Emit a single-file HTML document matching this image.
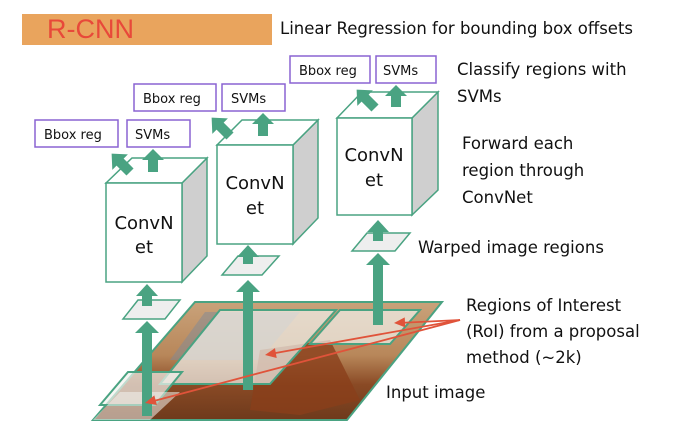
<!DOCTYPE html>
<html><head><meta charset="utf-8"><style>
html,body{margin:0;padding:0;background:#fff;}
svg{display:block;font-family:"Liberation Sans","DejaVu Sans",sans-serif;}
.t{font-family:"DejaVu Sans","Liberation Sans",sans-serif;font-size:16.5px;fill:#111;}
.b{font-family:"DejaVu Sans","Liberation Sans",sans-serif;font-size:13px;fill:#111;}
.c{font-family:"DejaVu Sans","Liberation Sans",sans-serif;font-size:18px;fill:#111;text-anchor:middle;}
</style></head><body>
<svg width="686" height="424" viewBox="0 0 686 424" xmlns="http://www.w3.org/2000/svg">
<defs>
<linearGradient id="img" x1="0" y1="0" x2="0" y2="1">
<stop offset="0" stop-color="#c9a27a"/><stop offset="0.45" stop-color="#b8875a"/><stop offset="0.7" stop-color="#8a4a25"/><stop offset="1" stop-color="#6e3a1c"/>
</linearGradient>
</defs>
<rect x="22" y="14" width="250" height="31" fill="#e9a45d"/>
<text x="47" y="38" font-size="27" fill="#e8493a">R-CNN</text>
<text class="t" x="280" y="34">Linear Regression for bounding box offsets</text>

<polygon points="195,302 442,302 347,420 93,420" fill="url(#img)" stroke="#4aa382" stroke-width="2"/>
<polygon points="205,312 300,312 260,360 170,360" fill="#7f8a98" opacity="0.5"/>
<polygon points="260,350 330,340 360,400 300,415 250,410" fill="#8a3f1a" opacity="0.8"/>
<polygon points="220,310 336,310 270,384 160,384" fill="#f2f2ee" fill-opacity="0.7" stroke="#4aa382" stroke-width="2"/>
<polygon points="340,310 420,310 390,344 310,344" fill="#f2f2ee" fill-opacity="0.7" stroke="#4aa382" stroke-width="2"/>
<polygon points="128,372 182,372 155,405 100,405" fill="#f2f2ee" fill-opacity="0.7" stroke="#4aa382" stroke-width="2"/>
<polygon points="93,420 120,392 180,392 150,420" fill="#f2f2ee" fill-opacity="0.55"/>

<polygon points="138,300 180,300 165,319 123,319" fill="#eeeeee" stroke="#4aa382" stroke-width="1.5"/>
<polygon points="238,256 279,256 262,275 222,275" fill="#eeeeee" stroke="#4aa382" stroke-width="1.5"/>
<polygon points="367,233 410,233 395,251 352,251" fill="#eeeeee" stroke="#4aa382" stroke-width="1.5"/>

<g fill="#4aa382">
<polygon points="142,416 152,416 152,333 159,333 147,321 135,333 142,333"/>
<polygon points="243,390 253,390 253,292 260,292 248,280 236,292 243,292"/>
<polygon points="373,325 383,325 383,265 390,265 378,253 366,265 373,265"/>
<polygon points="142,306 152,306 152,296 158,296 147,284 136,296 142,296"/>
<polygon points="243,264 253,264 253,257 259,257 248,245 237,257 243,257"/>
<polygon points="373,241 383,241 383,232 389,232 378,220 367,232 373,232"/>
</g>

<g stroke="#4aa382" stroke-width="1.5">
<polygon points="182,183 207,158 207,256 182,282" fill="#cfcfcf"/>
<polygon points="106,183 132,158 207,158 182,183" fill="#fff"/>
<rect x="106" y="183" width="76" height="99" fill="#fff"/>
<polygon points="293,145 318,120 318,218 293,244" fill="#cfcfcf"/>
<polygon points="217,145 242,120 318,120 293,145" fill="#fff"/>
<rect x="217" y="145" width="76" height="99" fill="#fff"/>
<polygon points="412,118 438,92 438,190 412,215" fill="#cfcfcf"/>
<polygon points="337,118 362,92 438,92 412,118" fill="#fff"/>
<rect x="337" y="118" width="75" height="97" fill="#fff"/>
</g>
<text class="c" x="144" y="229">ConvN</text><text class="c" x="144" y="253">et</text>
<text class="c" x="255" y="189">ConvN</text><text class="c" x="255" y="214">et</text>
<text class="c" x="374" y="161">ConvN</text><text class="c" x="374" y="186">et</text>

<g fill="#4aa382">
<polygon points="148,172 158,172 158,160 164,160 153,149 142,160 148,160"/>
<polygon points="258,136 268,136 268,124 274,124 263,113 252,124 258,124"/>
<polygon points="391,107 401,107 401,96 407,96 396,85 385,96 391,96"/>
<polygon points="0,-5 -14,-5 -14,-11 -26,0 -14,11 -14,5 0,5" transform="translate(130,172) rotate(45)"/>
<polygon points="0,-5 -14,-5 -14,-11 -26,0 -14,11 -14,5 0,5" transform="translate(230,136) rotate(45)"/>
<polygon points="0,-5 -14,-5 -14,-11 -26,0 -14,11 -14,5 0,5" transform="translate(375,108) rotate(45)"/>
</g>

<g fill="#fff" stroke="#8a63d2" stroke-width="1.5">
<rect x="35" y="120" width="83" height="27"/><rect x="127" y="120" width="63" height="27"/>
<rect x="134" y="84" width="82" height="27"/><rect x="222" y="84" width="63" height="27"/>
<rect x="290" y="56" width="80" height="27"/><rect x="376" y="56" width="60" height="27"/>
</g>
<text class="b" x="44" y="139">Bbox reg</text><text class="b" x="135" y="139">SVMs</text>
<text class="b" x="143" y="103">Bbox reg</text><text class="b" x="231" y="103">SVMs</text>
<text class="b" x="299" y="75">Bbox reg</text><text class="b" x="383" y="75">SVMs</text>

<g stroke="#e0533a" stroke-width="1.8" fill="none">
<line x1="460" y1="320" x2="398" y2="323"/>
<line x1="460" y1="320" x2="270" y2="354"/>
<line x1="460" y1="320" x2="150" y2="402"/>
</g>
<g fill="#e0533a">
<polygon points="0,0 -11,-5 -11,5" transform="translate(394,323) rotate(177)"/>
<polygon points="0,0 -11,-5 -11,5" transform="translate(265,355) rotate(170)"/>
<polygon points="0,0 -11,-5 -11,5" transform="translate(145,403) rotate(165)"/>
</g>

<text class="t" x="457" y="75">Classify regions with</text>
<text class="t" x="457" y="102">SVMs</text>
<text class="t" x="462" y="149">Forward each</text>
<text class="t" x="462" y="176">region through</text>
<text class="t" x="462" y="203">ConvNet</text>
<text class="t" x="418" y="253">Warped image regions</text>
<text class="t" x="466" y="311">Regions of Interest</text>
<text class="t" x="466" y="337">(RoI) from a proposal</text>
<text class="t" x="466" y="363">method (~2k)</text>
<text class="t" x="386" y="398">Input image</text>
</svg>
</body></html>
